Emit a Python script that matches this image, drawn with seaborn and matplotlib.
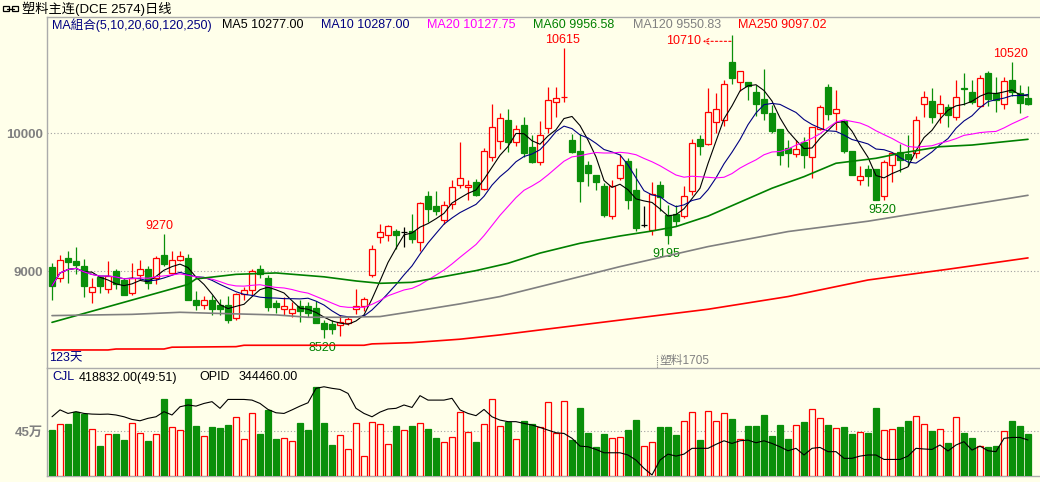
import numpy as np
import pandas as pd
import matplotlib
matplotlib.use("Agg")
import matplotlib.pyplot as plt
import matplotlib.transforms as mtransforms
from matplotlib.patches import Rectangle
from matplotlib.lines import Line2D
import seaborn as sns

# ---------------- data ----------------
opens = [9030, 8950, 9095, 9075, 9040, 8850, 8960, 8875, 9005, 8935,
         8845, 8975, 9020, 8950, 9115, 8990, 9085, 9095, 8795, 8755,
         8795, 8755, 8755, 8660, 8835, 8865, 9015, 8950, 8770, 8725,
         8700, 8745, 8750, 8735, 8625, 8615, 8610, 8625, 8725, 8745,
         8975, 9250, 9265, 9295, 9285, 9295, 9215, 9545, 9475, 9375,
         9490, 9625, 9610, 9645, 9595, 9830, 9945, 10095, 9940, 10060,
         9900, 9795, 10040, 10225, 10260, 9950, 9870, 9770, 9700, 9620,
         9400, 9675, 9800, 9590, 9335, 9300, 9625, 9405, 9415, 9400,
         9585, 9960, 9925, 10085, 10100, 10515, 10370, 10370, 10300, 10245,
         10145, 10030, 9890, 9850, 9940, 9830, 10030, 10335, 10150, 10090,
         9875, 9665, 9740, 9740, 9545, 9770, 9865, 9850, 9855, 10210,
         10235, 10145, 10190, 10115, 10325, 10300, 10200, 10435, 10295, 10215,
         10385, 10290, 10255]
highs = [9060, 9115, 9150, 9175, 9090, 8955, 8965, 9075, 9020, 8955,
         9060, 9080, 9040, 9110, 9270, 9145, 9150, 9125, 8855, 8820,
         8830, 8800, 8820, 8840, 8885, 9020, 9045, 8970, 8795, 8815,
         8775, 8795, 8780, 8785, 8650, 8650, 8680, 8670, 8875, 8815,
         9190, 9345, 9335, 9310, 9320, 9415, 9500, 9580, 9580, 9510,
         9665, 9935, 9665, 9670, 9895, 10215, 10145, 10175, 10060, 10120,
         9990, 10090, 10335, 10335, 10615, 9995, 9995, 9800, 9700, 9640,
         9660, 9850, 9820, 9750, 9475, 9645, 9655, 9480, 9480, 9615,
         9960, 9990, 10325, 10295, 10385, 10710, 10455, 10375, 10350, 10465,
         10205, 10030, 9955, 9955, 9970, 10045, 10205, 10355, 10315, 10095,
         9875, 9760, 9770, 9740, 9805, 9865, 9925, 9990, 10125, 10310,
         10325, 10280, 10215, 10385, 10440, 10385, 10420, 10455, 10410, 10410,
         10520, 10350, 10345]
lows = [8795, 8920, 8915, 8980, 8815, 8770, 8840, 8840, 8875, 8830,
        8830, 8935, 8875, 8905, 9040, 8985, 9075, 8790, 8720, 8725,
        8680, 8680, 8625, 8650, 8790, 8825, 8950, 8710, 8700, 8685,
        8670, 8635, 8670, 8625, 8520, 8545, 8530, 8610, 8690, 8710,
        8960, 9205, 9220, 9165, 9175, 9205, 9150, 9360, 9410, 9345,
        9455, 9605, 9515, 9545, 9590, 9800, 9885, 9865, 9910, 9830,
        9785, 9770, 10005, 10115, 10230, 9860, 9500, 9615, 9590, 9395,
        9380, 9660, 9455, 9290, 9320, 9265, 9435, 9195, 9325, 9385,
        9555, 9845, 9915, 10000, 10050, 10355, 10310, 10240, 10125, 10095,
        10000, 9770, 9755, 9830, 9745, 9675, 10025, 10095, 10025, 9855,
        9700, 9625, 9615, 9515, 9520, 9645, 9720, 9760, 9820, 10115,
        10075, 10075, 10045, 10100, 10205, 10215, 10195, 10200, 10155, 10175,
        10270, 10145, 10205]
closes = [8895, 9080, 9065, 9045, 8895, 8885, 8895, 8965, 8905, 8830,
          8950, 9020, 8915, 9100, 9055, 9080, 9110, 8790, 8755, 8790,
          8730, 8725, 8650, 8835, 8865, 9005, 8980, 8740, 8740, 8750,
          8725, 8710, 8700, 8625, 8580, 8585, 8635, 8655, 8745, 8800,
          9165, 9285, 9325, 9260, 9285, 9235, 9495, 9455, 9435, 9480,
          9610, 9675, 9625, 9555, 9870, 10045, 10110, 9940, 10030, 9860,
          9790, 9985, 10240, 10255, 10265, 9865, 9655, 9715, 9645, 9410,
          9615, 9770, 9515, 9315, 9335, 9560, 9535, 9260, 9365, 9545,
          9930, 9910, 10155, 10175, 10355, 10400, 10450, 10340, 10215, 10145,
          10020, 9840, 9860, 9885, 9840, 10045, 10190, 10140, 10175, 9875,
          9700, 9690, 9690, 9515, 9790, 9855, 9810, 9815, 10100, 10265,
          10120, 10215, 10135, 10260, 10320, 10230, 10400, 10250, 10240, 10380,
          10300, 10220, 10215]
volumes = [463000, 520000, 524000, 648000, 628000, 473000, 302000, 423000, 423000, 363000,
           531000, 430000, 353000, 420000, 776000, 490000, 463000, 776000, 504000, 403000,
           497000, 484000, 514000, 591000, 369000, 631000, 423000, 665000, 373000, 379000,
           349000, 534000, 463000, 893000, 534000, 312000, 410000, 269000, 531000, 201000,
           541000, 520000, 319000, 504000, 463000, 504000, 531000, 473000, 383000, 339000,
           390000, 641000, 440000, 343000, 520000, 772000, 504000, 544000, 369000, 554000,
           524000, 497000, 742000, 430000, 756000, 363000, 685000, 430000, 296000, 423000,
           379000, 390000, 463000, 564000, 302000, 339000, 490000, 490000, 413000, 551000,
           641000, 363000, 655000, 554000, 631000, 574000, 369000, 504000, 504000, 615000,
           403000, 514000, 373000, 510000, 544000, 672000, 581000, 514000, 480000, 494000,
           423000, 440000, 433000, 685000, 463000, 473000, 494000, 554000, 601000, 520000,
           453000, 473000, 332000, 591000, 433000, 383000, 299000, 296000, 302000, 450000,
           554000, 504000, 418832]
opid = [449000, 480000, 464000, 472000, 464000, 461000, 460000, 461000, 457000, 449000,
        437000, 431000, 442000, 449000, 472000, 457000, 494000, 502000, 497000, 509000,
        517000, 487000, 527000, 527000, 527000, 524000, 509000, 482000, 467000, 464000,
        480000, 497000, 512000, 577000, 584000, 577000, 572000, 554000, 487000, 464000,
        449000, 470000, 484000, 487000, 502000, 491000, 544000, 524000, 524000, 524000,
        532000, 480000, 464000, 454000, 482000, 449000, 434000, 427000, 427000, 419000,
        412000, 401000, 389000, 377000, 374000, 352000, 317000, 314000, 302000, 287000,
        287000, 287000, 277000, 254000, 217000, 187000, 254000, 281000, 272000, 281000,
        307000, 307000, 307000, 325000, 341000, 329000, 341000, 344000, 332000, 341000,
        329000, 314000, 296000, 307000, 277000, 307000, 311000, 292000, 292000, 262000,
        262000, 272000, 277000, 277000, 257000, 257000, 257000, 272000, 307000, 304000,
        302000, 322000, 295000, 322000, 337000, 299000, 317000, 296000, 292000, 352000,
        356000, 356000, 344460]

# long moving averages (need history before the window)
ma60_idx = [0, 17, 18, 20, 23, 28, 34, 38, 41, 45, 49, 53, 57, 61, 66, 71, 75, 78, 82,
            90, 94, 98, 103, 106, 111, 115, 122]
ma60_val = [8630, 8905, 8945, 8958, 8978, 8988, 8960, 8930, 8913, 8920, 8962, 9005, 9058,
            9132, 9203, 9256, 9292, 9324, 9400, 9602, 9686, 9783, 9819, 9855, 9903, 9915, 9956.58]
ma120_idx = [0, 10, 16, 20, 28, 32, 36, 41, 45, 51, 56, 61, 71, 82, 92, 102, 112, 122]
ma120_val = [8679, 8688, 8703, 8696, 8684, 8667, 8667, 8672, 8708, 8764, 8817, 8889, 9034,
             9179, 9288, 9363, 9457, 9550.83]
ma250_idx = [0, 7, 8, 14, 15, 23, 24, 39, 40, 45, 51, 56, 61, 82, 92, 102, 112, 122]
ma250_val = [8430, 8430, 8437, 8437, 8450, 8454, 8464, 8464, 8474, 8483, 8508, 8539, 8575,
             8725, 8817, 8937, 9015, 9097.02]

price_ticks = [9000, 10000]
price_tick_labels = ["9000", "10000"]
vol_ticks = [450000]
vol_tick_labels = ["45万"]

title = "塑料主连(DCE 2574)日线"
legend_items = [("MA組合(5,10,20,60,120,250)", 52, "#000080"),
                ("MA5 10277.00", 222, "black"),
                ("MA10 10287.00", 321, "#000080"),
                ("MA20 10127.75", 427, "#FF00FF"),
                ("MA60 9956.58", 533, "#008000"),
                ("MA120 9550.83", 633, "#808080"),
                ("MA250 9097.02", 738, "#FF0000")]

# ---------------- style ----------------
W, H = 1040, 482
BG = "#FFFFEA"
RED = "#FF0000"
GREEN = "#0A8F0A"
NAVY = "#000080"
MAG = "#FF00FF"
MA60C = "#008000"
GRAY = "#808080"
FRAME = "#ABABAB"

sns.set_style("white", rc={"axes.facecolor": BG, "figure.facecolor": BG})
plt.rcParams["font.family"] = ["Liberation Sans", "Noto Sans CJK SC"]

fig = plt.figure(figsize=(W / 100, H / 100), dpi=100, facecolor=BG)


def rect(x0, y0, x1, y1):
    return [x0 / W, 1 - y1 / H, (x1 - x0) / W, (y1 - y0) / H]


def ftext(x, y, s, **kw):
    kw.setdefault("va", "center")
    kw.setdefault("ha", "left")
    fig.text(x / W, 1 - y / H, s, **kw)


ax = fig.add_axes(rect(47, 17, 1040, 368))
axv = fig.add_axes(rect(47, 368, 1040, 476))

n = len(closes)
x = np.arange(n)
o = np.array(opens, float)
c = np.array(closes, float)
h = np.array(highs, float)
l = np.array(lows, float)
v = np.array(volumes, float)
up = c > o
dn = c < o
dj = c == o
BW = 0.72

# ---------------- candles ----------------
wick_col = np.where(up, RED, np.where(dn, GREEN, "black"))
ax.vlines(x, l, h, colors=list(wick_col), linewidth=0.9, zorder=3)
ax.bar(x[up], (c - o)[up], bottom=o[up], width=BW, facecolor=BG, edgecolor=RED,
       linewidth=0.9, zorder=4)
ax.bar(x[dn], (o - c)[dn], bottom=c[dn], width=BW, facecolor=GREEN, edgecolor=GREEN,
       linewidth=0.9, zorder=4)
ax.hlines(o[dj], x[dj] - BW / 2, x[dj] + BW / 2, colors="black", linewidth=0.9, zorder=4)

# ---------------- moving averages ----------------
cs = pd.Series(c)
ma5 = cs.rolling(5, min_periods=1).mean().values
ma10 = cs.rolling(10, min_periods=1).mean().values
ma20 = cs.rolling(20, min_periods=1).mean().values

for yy, col, lw in [(ma5, "black", 0.8), (ma10, NAVY, 0.8), (ma20, MAG, 0.8)]:
    sns.lineplot(x=x, y=yy, ax=ax, color=col, linewidth=lw, estimator=None,
                 legend=False, zorder=5)
for xi, yy, col in [(ma60_idx, ma60_val, MA60C), (ma120_idx, ma120_val, GRAY),
                    (ma250_idx, ma250_val, RED)]:
    sns.lineplot(x=xi, y=yy, ax=ax, color=col, linewidth=1.2, estimator=None,
                 legend=False, zorder=5)

# ---------------- high / low marks ----------------
def mark_high(i, txt, dx):
    ax.annotate(txt, xy=(i, h[i]), xytext=(dx, 2), textcoords="offset pixels",
                ha="center", va="bottom", color=RED, fontsize=9)


def mark_low(i, txt, dx):
    ax.annotate(txt, xy=(i, l[i]), xytext=(dx, -4), textcoords="offset pixels",
                ha="center", va="top", color=MA60C, fontsize=9)


mark_high(14, "9270", -5)
mark_high(64, "10615", -2)
mark_high(120, "10520", -2)
mark_low(34, "8520", -2)
mark_low(77, "9195", -2)
mark_low(104, "9520", -2)

ax.annotate("10710", xy=(85, h[85]), xytext=(-31, -6), textcoords="offset pixels",
            ha="right", va="center", color=RED, fontsize=9)
tr_head = mtransforms.offset_copy(ax.transData, fig=fig, x=-29, y=-6, units="dots")
tr_tail = mtransforms.offset_copy(ax.transData, fig=fig, x=-1, y=-6, units="dots")
ax.annotate("", xy=(85, h[85]), xycoords=tr_head, xytext=(85, h[85]), textcoords=tr_tail,
            arrowprops=dict(arrowstyle="->,head_length=0.35,head_width=0.2",
                            linestyle=(0, (2, 2)), color=RED, lw=0.8,
                            shrinkA=0, shrinkB=0))

# ---------------- volume + open interest ----------------
vup = ~dn
axv.bar(x[vup], v[vup], width=BW, facecolor=BG, edgecolor=RED, linewidth=0.9, zorder=3)
axv.bar(x[dn], v[dn], width=BW, facecolor=GREEN, edgecolor=GREEN, linewidth=0.9, zorder=3)

axo = axv.twinx()
sns.lineplot(x=x, y=np.array(opid, float), ax=axo, color="black", linewidth=0.8,
             estimator=None, legend=False, zorder=5)

# ---------------- axes cosmetics ----------------
for a in (ax, axv, axo):
    a.set_xlim(-0.625, 123.5)
    a.set_xlabel("")
    a.set_ylabel("")
    a.set_xticks([])

ax.set_ylim(8299.3, 10842.8)
axv.set_ylim(0, 1088000)
axo.set_ylim(182460, 668460)

ax.set_yticks(price_ticks)
ax.set_yticklabels(price_tick_labels)
axv.set_yticks(vol_ticks)
axv.set_yticklabels(vol_tick_labels)
for a in (ax, axv):
    a.tick_params(axis="y", length=0, pad=3, labelcolor=GRAY, labelsize=9.5)
    for t in a.get_yticklabels():
        t.set_fontweight("bold")
    a.set_axisbelow(True)
    a.yaxis.grid(True, linestyle=(0, (1, 2)), color="#A0A0A0", linewidth=0.8)
    a.xaxis.grid(False)
axo.set_yticks([])
axo.patch.set_visible(False)
for s in axo.spines.values():
    s.set_visible(False)

for s in ("right", "bottom"):
    ax.spines[s].set_visible(False)
for s in ("left", "top"):
    ax.spines[s].set_color(FRAME)
    ax.spines[s].set_linewidth(1.0)
axv.spines["right"].set_visible(False)
for s in ("left", "top", "bottom"):
    axv.spines[s].set_color(FRAME)
    axv.spines[s].set_linewidth(1.0)

# ---------------- header texts ----------------
# small link icon
fig.patches.append(Rectangle((3 / W, 1 - 11 / H), 6 / W, 5 / H, transform=fig.transFigure,
                             fill=False, edgecolor="black", linewidth=0.9))
fig.patches.append(Rectangle((12 / W, 1 - 11 / H), 6 / W, 5 / H, transform=fig.transFigure,
                             fill=False, edgecolor="black", linewidth=0.9))
fig.lines.append(Line2D([7 / W, 14 / W], [1 - 8.5 / H, 1 - 8.5 / H], transform=fig.transFigure,
                        color="black", linewidth=0.9))
ftext(22, 8.5, title, fontsize=9.5, color="black")

for txt, xp, col in legend_items:
    ftext(xp, 25, txt, fontsize=9, color=col)

ftext(49, 358, "123天", fontsize=9, color=NAVY)
ftext(659, 361, "塑料1705", fontsize=8.5, color=GRAY)
fig.lines.append(Line2D([656.5 / W, 656.5 / W], [1 - 355 / H, 1 - 368 / H],
                        transform=fig.transFigure, color=GRAY, linewidth=0.8,
                        linestyle=(0, (1, 1))))

ftext(52, 377.5, "CJL", fontsize=9, color=NAVY)
ftext(79, 377.5, "418832.00(49:51)", fontsize=9, color="black")
ftext(199, 377.5, "OPID", fontsize=9, color="black")
ftext(239, 377.5, "344460.00", fontsize=9, color="black")

fig.savefig("out.png", dpi=100, facecolor=BG)
